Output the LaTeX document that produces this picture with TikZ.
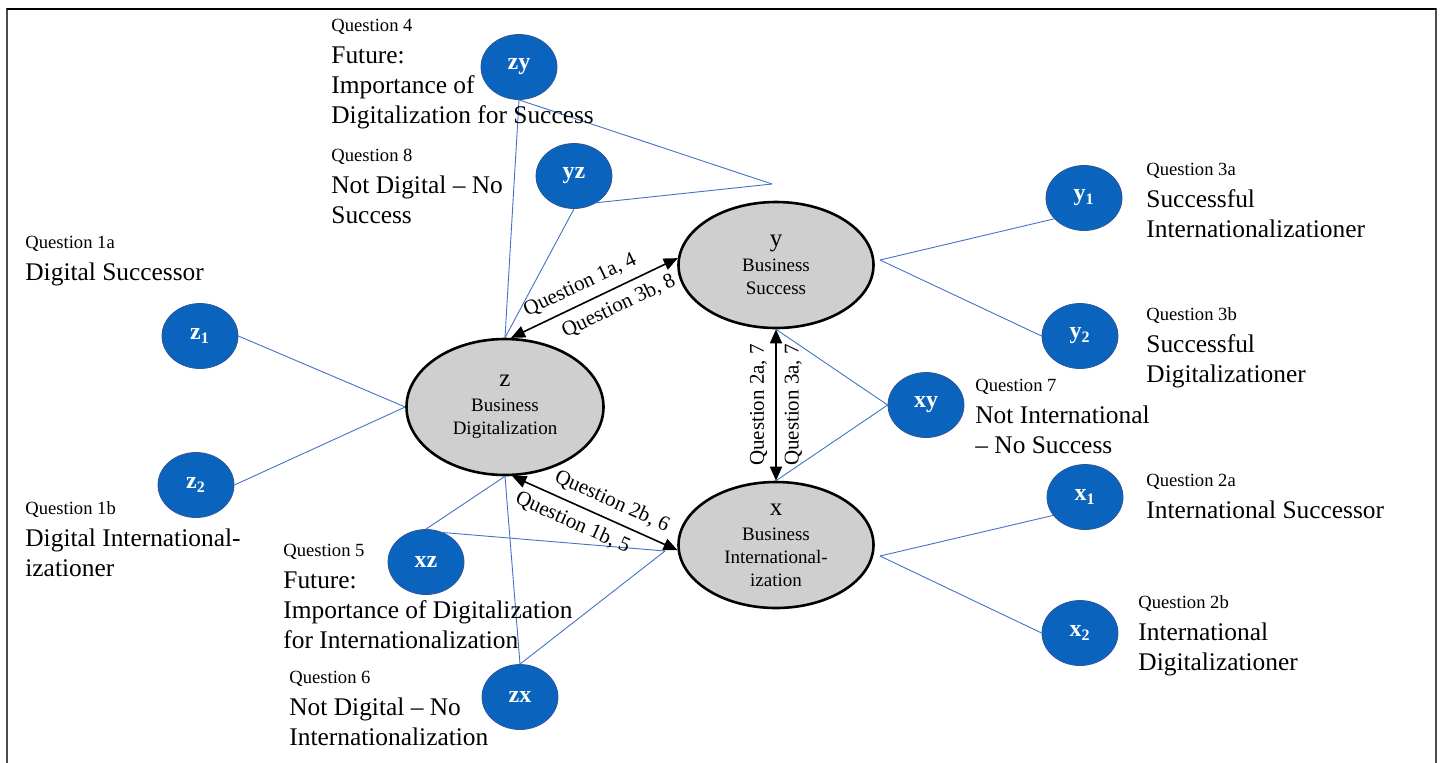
\documentclass[tikz,border=0pt]{standalone}
\usepackage{fontspec}
\setmainfont{Liberation Serif}
\usetikzlibrary{arrows.meta, shapes.geometric, positioning}
\definecolor{qBlue}{HTML}{0A64BE}
\definecolor{qBlueEdge}{HTML}{2F5597}
\definecolor{qLine}{HTML}{4472C4}
\definecolor{qGrey}{HTML}{CFCFCF}
\newcommand{\qfont}{\fontsize{9.3}{11}\selectfont}
\newcommand{\cfont}{\fontsize{12.5}{12.5}\selectfont}
\tikzset{
  construct/.style = {ellipse, draw=black, line width=1.3pt, fill=qGrey,
                      minimum width=97.5pt, minimum height=63pt, inner sep=0pt,
                      align=center, font=\fontsize{9.5}{11.5}\selectfont},
  item/.style      = {ellipse, draw=qBlueEdge, line width=0.4pt, fill=qBlue,
                      minimum width=38pt, minimum height=32.5pt, inner sep=0pt,
                      text=white, font=\fontsize{12}{12}\selectfont\bfseries},
  link/.style      = {qLine, line width=0.45pt},
  rel/.style       = {{Triangle[length=7pt,width=6pt]}-{Triangle[length=7pt,width=6pt]},
                      line width=0.8pt, black},
  rlbl/.style      = {font=\fontsize{10.5}{12}\selectfont, sloped, inner sep=4pt},
  desc/.style      = {anchor=north west, align=left, inner sep=0pt,
                      font=\fontsize{12.7}{15}\selectfont},
}

\begin{document}
\begin{tikzpicture}[x=0.5pt, y=-0.5pt]
\useasboundingbox (0,0) rectangle (1441,762);

% ---- frame ---------------------------------------------------------------
\draw[black!70, line width=1pt] (7,800) -- (7,9) -- (1436,9) -- (1436,800);
\draw[black, line width=1pt] (7,9) -- (1436,9);

% ---- constructs ----------------------------------------------------------
\node[construct, minimum width=98.5pt, minimum height=68pt] (z) at (505,407)
  {{\cfont z}\\[1pt] Business\\ Digitalization};
\node[construct] (y) at (776,265) {{\cfont y}\\[1pt] Business\\ Success};
\node[construct] (x) at (776,545)
  {{\cfont x}\\[1pt] Business\\ International-\\ ization};

% ---- items ---------------------------------------------------------------
\node[item] (zy) at (519,67)   {zy};
\node[item] (yz) at (574,176)  {yz};
\node[item] (z1) at (200,336)  {z\textsubscript{1}};
\node[item] (z2) at (196,485)  {z\textsubscript{2}};
\node[item] (xz) at (426,562)  {xz};
\node[item] (zx) at (520,697)  {zx};
\node[item] (xy) at (926,405)  {xy};
\node[item] (y1) at (1084,198) {y\textsubscript{1}};
\node[item] (y2) at (1080,336) {y\textsubscript{2}};
\node[item] (x1) at (1085,497) {x\textsubscript{1}};
\node[item] (x2) at (1080,633) {x\textsubscript{2}};

\coordinate (yabove) at (772,184);
\coordinate (yright) at (880,260);
\coordinate (xleft)  at (665,551);
\coordinate (xright) at (880,556);

\foreach \a/\b in {zy.south/z.north, zy.south/yabove, yz.south/z.north, yz.-50/yabove,
                   z1.east/z.west, z2.east/z.west, xz.north/z.south, xz.60/xleft,
                   zx.north/z.south, zx.north/xleft, xy.west/y.south, xy.west/x.north,
                   y1.215/yright, y2.west/yright, x1.210/xright, x2.west/xright} {
  \draw[link] (\a) -- (\b);
}

% ---- relations -----------------------------------------------------------
\draw[rel] (z.85) -- node[rlbl, above, pos=0.46] {Question 1a, 4}
                     node[rlbl, below, pos=0.6] {Question 3b, 8} (y.176);
\draw[rel] (z.-84) -- node[rlbl, above, pos=0.56] {Question 2b, 6}
                      node[rlbl, below, pos=0.41] {Question 1b, 5} (x.183);
\draw[rel] (x.north) -- node[rlbl, above] {Question 2a, 7}
                        node[rlbl, below] {Question 3a, 7} (y.south);

% ---- question texts ------------------------------------------------------
\node[desc] (q4) at (331,19)
  {{\qfont Question 4}\\[1pt] Future:\\ Importance of\\ Digitalization for Success};
\node[desc] (q8) at (331,149)
  {{\qfont Question 8}\\[1pt] Not Digital \textendash{} No\\ Success};
\node[desc] (q1a) at (25,236) {{\qfont Question 1a}\\[1pt] Digital Successor};
\node[desc] (q1b) at (25,501)
  {{\qfont Question 1b}\\[1pt] Digital International-\\ izationer};
\node[desc] (q5) at (283,544)
  {{\qfont Question 5}\\[1pt] Future:\\ Importance of Digitalization\\ for Internationalization};
\node[desc] (q6) at (289,671)
  {{\qfont Question 6}\\[1pt] Not Digital \textendash{} No\\ Internationalization};
\node[desc] (q3a) at (1146,163)
  {{\qfont Question 3a}\\[1pt] Successful\\ Internationalizationer};
\node[desc] (q3b) at (1146,307)
  {{\qfont Question 3b}\\[1pt] Successful\\ Digitalizationer};
\node[desc] (q7) at (975,379)
  {{\qfont Question 7}\\[1pt] Not International\\ \textendash{} No Success};
\node[desc] (q2a) at (1146,474) {{\qfont Question 2a}\\[1pt] International Successor};
\node[desc] (q2b) at (1138,595)
  {{\qfont Question 2b}\\[1pt] International\\ Digitalizationer};

\end{tikzpicture}
\end{document}
